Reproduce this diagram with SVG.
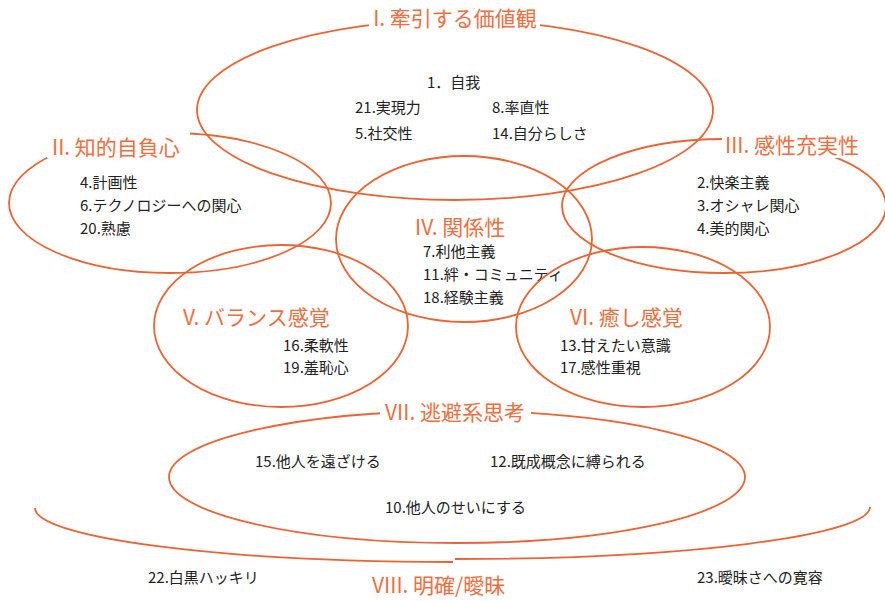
<svg xmlns="http://www.w3.org/2000/svg" width="885" height="601" viewBox="0 0 885 601">
<style>
.e{fill:none;stroke:#EF6230;stroke-width:1.8}
.bg{fill:#fff}
.lb{font-family:'Noto Sans CJK JP','DejaVu Sans',sans-serif;font-size:21px;fill:#F26D3D}
.t{font-family:'Noto Sans CJK JP','DejaVu Sans',sans-serif;font-size:15px;fill:#222}
</style>
<rect width="885" height="601" fill="#fff"/>
<g id="node-I">
<ellipse class="e" cx="455" cy="110" rx="258" ry="90"/>
<rect class="bg" x="369" y="6" width="171" height="28"/>
<text class="lb" x="455" y="26" text-anchor="middle">I. 牽引する価値観</text>
<text class="t" x="427" y="88">1．自我</text>
<text class="t" x="355" y="113">21.実現力</text>
<text class="t" x="492" y="113">8.率直性</text>
<text class="t" x="355" y="139">5.社交性</text>
<text class="t" x="492" y="139">14.自分らしさ</text>
</g>
<g id="node-II">
<ellipse class="e" cx="170" cy="203" rx="161" ry="70"/>
<rect class="bg" x="47" y="128" width="143" height="30"/>
<text class="lb" x="52" y="155">II. 知的自負心</text>
<text class="t" x="80" y="188">4.計画性</text>
<text class="t" x="80" y="211">6.テクノロジーへの関心</text>
<text class="t" x="80" y="234">20.熟慮</text>
</g>
<g id="node-III">
<ellipse class="e" cx="724" cy="206" rx="162" ry="67"/>
<rect class="bg" x="722" y="127" width="150" height="31"/>
<text class="lb" x="725" y="153">III. 感性充実性</text>
<text class="t" x="697" y="188">2.快楽主義</text>
<text class="t" x="697" y="211">3.オシャレ関心</text>
<text class="t" x="697" y="234">4.美的関心</text>
</g>
<g id="node-IV">
<ellipse class="e" cx="464" cy="239" rx="128" ry="83"/>
<text class="lb" x="415" y="235">IV. 関係性</text>
<text class="t" x="423" y="257">7.利他主義</text>
<text class="t" x="423" y="280">11.絆・コミュニティ</text>
<text class="t" x="423" y="303">18.経験主義</text>
</g>
<g id="node-V">
<ellipse class="e" cx="281" cy="326" rx="127" ry="81"/>
<text class="lb" x="183" y="325">V. バランス感覚</text>
<text class="t" x="283" y="351">16.柔軟性</text>
<text class="t" x="283" y="373">19.羞恥心</text>
</g>
<g id="node-VI">
<ellipse class="e" cx="643" cy="327" rx="127" ry="80"/>
<text class="lb" x="570" y="325">VI. 癒し感覚</text>
<text class="t" x="560" y="351">13.甘えたい意識</text>
<text class="t" x="560" y="373">17.感性重視</text>
</g>
<g id="node-VII">
<ellipse class="e" cx="457" cy="477" rx="288" ry="66"/>
<rect class="bg" x="380" y="398" width="151" height="27"/>
<text class="lb" x="455" y="420" text-anchor="middle">VII. 逃避系思考</text>
<text class="t" x="255" y="467">15.他人を遠ざける</text>
<text class="t" x="490" y="467">12.既成概念に縛られる</text>
<text class="t" x="385" y="513">10.他人のせいにする</text>
</g>
<g id="node-VIII">
<path class="e" d="M35,508 A418,54 0 0 0 453,562"/>
<path class="e" d="M455,559 A415,52 0 0 0 870,507"/>
<text class="lb" x="372" y="593">VIII. 明確/曖昧</text>
<text class="t" x="148" y="583">22.白黒ハッキリ</text>
<text class="t" x="697" y="583">23.曖昧さへの寛容</text>
</g>
<g id="connectors"/>
</svg>
